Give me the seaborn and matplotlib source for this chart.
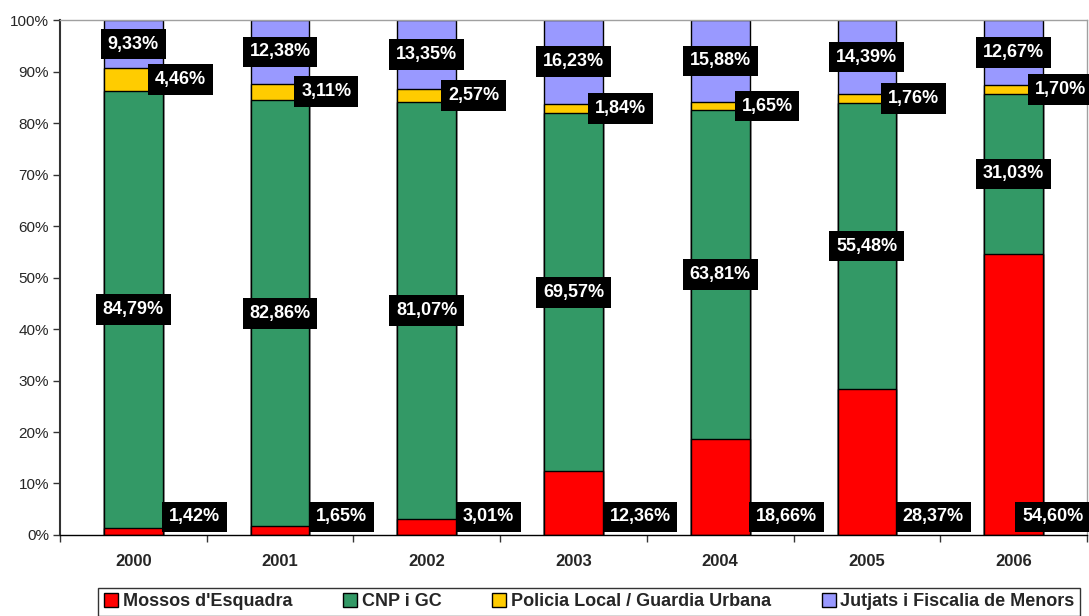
import numpy as np
import pandas as pd
import matplotlib
import matplotlib.pyplot as plt
import seaborn as sns
from matplotlib.patches import Patch
from matplotlib.ticker import FuncFormatter, FixedLocator
matplotlib.use("Agg")

sns.set_style("white")
plt.rcParams['font.family'] = ['Liberation Sans', 'DejaVu Sans']

years = ['2000', '2001', '2002', '2003', '2004', '2005', '2006']
series = ["Mossos d'Esquadra", 'CNP i GC', 'Policia Local / Guardia Urbana', 'Jutjats i Fiscalia de Menors']
mossos = [1.42, 1.65, 3.01, 12.36, 18.66, 28.37, 54.60]
cnp = [84.79, 82.86, 81.07, 69.57, 63.81, 55.48, 31.03]
policia = [4.46, 3.11, 2.57, 1.84, 1.65, 1.76, 1.70]
jutjats = [9.33, 12.38, 13.35, 16.23, 15.88, 14.39, 12.67]
colors = ['#FF0000', '#339966', '#FFCC00', '#9999FF']

df = pd.DataFrame({'year': years, 'm': mossos, 'c': cnp, 'p': policia, 'j': jutjats})
cum = df[['m', 'c', 'p', 'j']].cumsum(axis=1)
cum['j'] = 100.0  # rounding

fig = plt.figure(figsize=(10.89, 6.16), dpi=100)
ax = fig.add_axes([0.0551, 0.1315, 0.943, 0.836])

# stacked bars: draw tallest first
for col, c in zip(['j', 'p', 'c', 'm'], colors[::-1]):
    sns.barplot(x=df['year'], y=cum[col], color=c, width=0.4, saturation=1,
                edgecolor='black', linewidth=1, ax=ax)

box = dict(boxstyle='square,pad=0.38', fc='black', ec='none')
lab = dict(color='white', fontsize=13, fontweight='bold', va='center', bbox=box)
fmt = lambda v: f'{v:.2f}%'.replace('.', ',')
n = len(years)
for i in range(n):
    if i < n - 1:
        ax.text(i + 0.245, 3.5, fmt(mossos[i]), ha='left', **lab)
    else:
        ax.text(6.475, 3.5, fmt(mossos[i]), ha='right', **lab)
    ax.text(i, mossos[i] + cnp[i] / 2, fmt(cnp[i]), ha='center', **lab)
    yc = mossos[i] + cnp[i] + policia[i] / 2
    ax.text(i + 0.145, yc, fmt(policia[i]), ha='left', **lab)
    ax.text(i, 100 - jutjats[i] / 2, fmt(jutjats[i]), ha='center', **lab)

ax.set_xlim(-0.5, 6.5)
ax.set_ylim(0, 100)
ax.set_yticks(np.arange(0, 101, 10))
ax.yaxis.set_major_formatter(FuncFormatter(lambda v, p: f'{int(v)}%'))
ax.tick_params(axis='y', left=True, length=5, width=1, labelsize=11, pad=3, color='#333333')
ax.xaxis.set_minor_locator(FixedLocator(np.arange(-0.5, 7, 1)))
ax.tick_params(axis='x', which='major', length=0, pad=14, labelsize=12)
ax.tick_params(axis='x', which='minor', bottom=True, length=5, width=1, color='#333333')
for t in ax.get_xticklabels():
    t.set_fontweight('bold')
ax.set_xlabel('')
ax.set_ylabel('')
for s in ['top', 'right']:
    ax.spines[s].set_color('#A0A0A0')
    ax.spines[s].set_linewidth(1)
ax.spines['left'].set_color('#333333')
ax.spines['left'].set_linewidth(1.5)
ax.spines['bottom'].set_color('black')
ax.spines['bottom'].set_linewidth(1)

handles = [Patch(facecolor=c, edgecolor='black', label=s) for c, s in zip(colors, series)]
leg = fig.legend(handles=handles, ncol=4, loc='lower center', bbox_to_anchor=(0.541, -0.014),
                 frameon=True, fancybox=False, edgecolor='black', handlelength=0.8,
                 handleheight=0.8, handletextpad=0.25, columnspacing=2.8, borderpad=0.3,
                 prop={'weight': 'bold', 'size': 13})
leg.get_frame().set_linewidth(1)

fig.savefig('out.png', dpi=100)
